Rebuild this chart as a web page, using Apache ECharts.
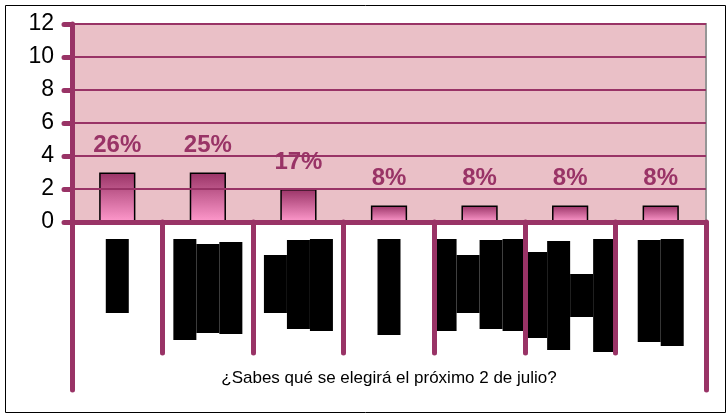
<!DOCTYPE html>
<html>
<head>
<meta charset="utf-8">
<script src="https://cdn.jsdelivr.net/npm/echarts@6/dist/echarts.min.js"></script>
<style>
  html, body { margin: 0; padding: 0; background: #fff; }
  #chart { width: 726px; height: 414px; }
</style>
</head>
<body>
<div id="chart"></div>
<script>
  // categories are unreadable in the source (drawn as black blocks)
  var categories = ['c1', 'c2', 'c3', 'c4', 'c5', 'c6', 'c7'];
  var values = [3, 3, 2, 1, 1, 1, 1];
  var percents = ['26%', '25%', '17%', '8%', '8%', '8%', '8%'];
  var axisTitle = '¿Sabes qué se elegirá el próximo 2 de julio?';

  // look of the blacked-out category labels: per column [gap from top, length]
  var labelBlocks = [
    [[0, 74]],
    [[0, 101], [5, 89], [3, 92]],
    [[16, 58], [1, 89], [0, 92]],
    [[0, 96]],
    [[0, 92], [16, 58], [1, 89], [0, 92]],
    [[13, 86], [2, 109], [35, 43], [0, 113]],
    [[1, 102], [0, 107]]
  ];

  var purple = '#993366';

  var rich = {};
  var labelText = [];
  labelBlocks.forEach(function (cols, i) {
    var lines = cols.map(function (c, j) {
      var k = i + '_' + j;
      rich['b' + k] = { width: c[1], height: 23, lineHeight: 23, backgroundColor: '#000', fontSize: 1 };
      var s = '{b' + k + '| }';
      if (c[0] > 0) {
        rich['p' + k] = { width: c[0], height: 23, lineHeight: 23, fontSize: 1 };
        s += '{p' + k + '| }';
      }
      return s;
    });
    labelText.push(lines.join('\n'));
  });

  var chart = echarts.init(document.getElementById('chart'));
  chart.setOption({
    animation: false,
    graphic: [{
      type: 'rect',
      left: 3, top: 3,
      shape: { width: 720, height: 407 },
      style: { fill: 'none', stroke: '#000', lineWidth: 1 },
      z: 100
    }],
    grid: {
      left: 72, right: 20, top: 24, bottom: 192,
      show: true,
      backgroundColor: '#eac0c7',
      borderColor: '#969696',
      borderWidth: 2
    },
    xAxis: [{
      type: 'category',
      data: categories,
      axisLine: { lineStyle: { color: purple, width: 5, cap: 'round' } },
      axisTick: { show: false },
      axisLabel: {
        interval: 0,
        rotate: 90,
        margin: 17,
        formatter: function (v, i) { return labelText[i]; },
        rich: rich
      },
      name: axisTitle,
      nameLocation: 'middle',
      nameGap: 148,
      nameTextStyle: { color: '#000', fontSize: 17, fontFamily: 'Liberation Sans, Arial' },
      z: 5
    }, {
      // category dividers, drawn over the label blocks
      type: 'category',
      data: categories,
      position: 'bottom',
      axisLine: { show: false },
      axisTick: { show: true, interval: 0, length: 131, lineStyle: { color: purple, width: 5, cap: 'round' } },
      axisLabel: { show: false },
      z: 6
    }, {
      // long end lines under the left and right edges
      type: 'value',
      position: 'bottom',
      min: 0, max: 1, interval: 1,
      axisLine: { show: false },
      axisTick: { show: true, length: 168, lineStyle: { color: purple, width: 5, cap: 'round' } },
      axisLabel: { show: false },
      splitLine: { show: false },
      z: 7
    }],
    yAxis: {
      type: 'value',
      min: 0, max: 12, interval: 2,
      axisLine: { show: true, lineStyle: { color: purple, width: 5, cap: 'round' } },
      axisTick: { show: true, length: 8, lineStyle: { color: purple, width: 5, cap: 'round' } },
      axisLabel: { color: '#000', fontSize: 23, fontFamily: 'Liberation Sans, Arial', margin: 18 },
      splitLine: { lineStyle: { color: purple, width: 2 } },
      z: 5
    },
    series: [{
      type: 'bar',
      data: values,
      barWidth: '40%',
      itemStyle: {
        color: new echarts.graphic.LinearGradient(0, 0, 0, 1, [
          { offset: 0, color: '#993366' },
          { offset: 1, color: '#ff99cc' }
        ]),
        borderColor: '#000',
        borderWidth: 1.5
      },
      label: {
        show: true,
        position: 'top',
        distance: 15,
        formatter: function (p) { return percents[p.dataIndex]; },
        color: purple,
        fontSize: 24,
        fontWeight: 'bold',
        fontFamily: 'Liberation Sans, Arial'
      }
    }]
  });
</script>
</body>
</html>
